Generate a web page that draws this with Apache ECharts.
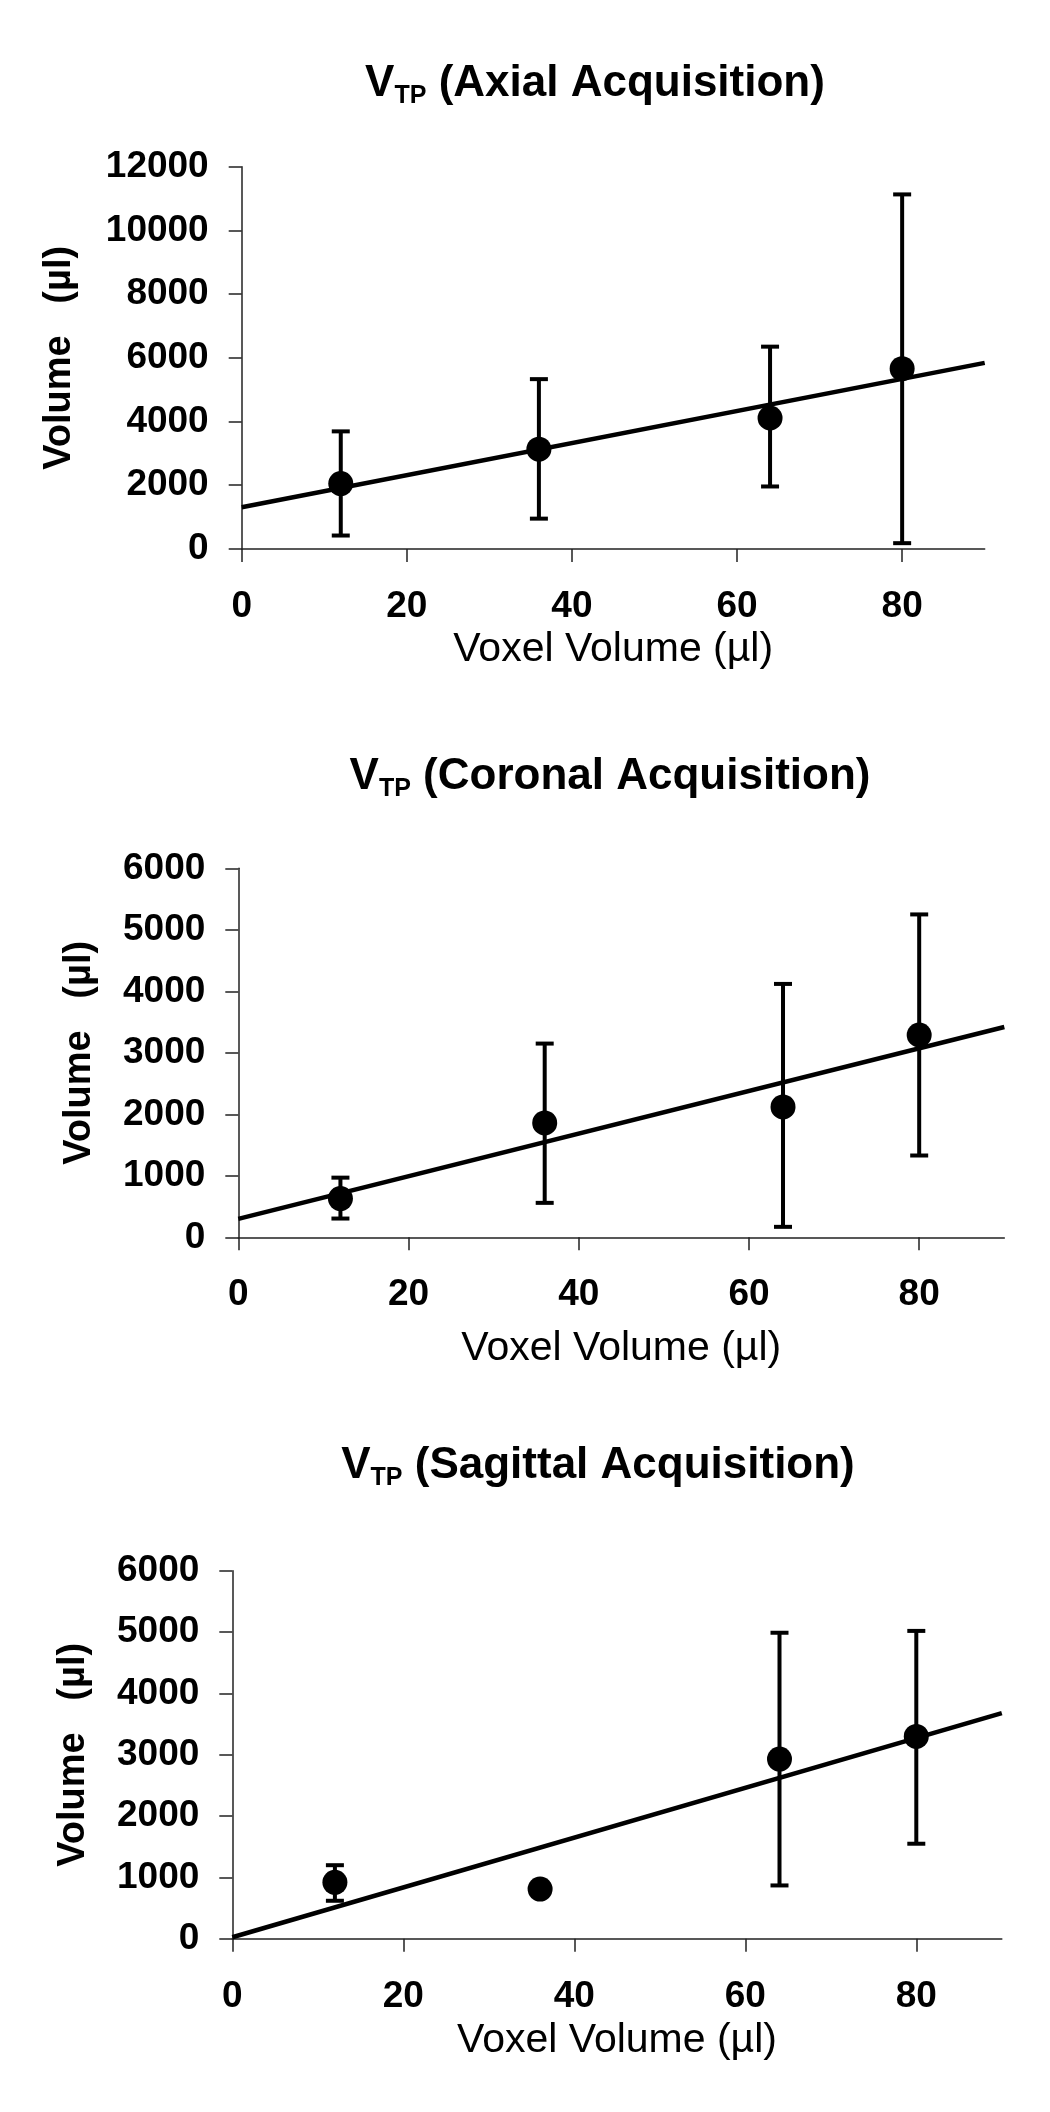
<!DOCTYPE html>
<html><head><meta charset="utf-8">
<script src="https://cdn.jsdelivr.net/npm/echarts@6/dist/echarts.min.js"></script>
<style>html,body{margin:0;padding:0;background:#fff}#c{width:1050px;height:2112px}</style>
</head><body><div id="c"></div>
<script>
// ---- data ----
const voxelVolumes = [12, 36, 64, 80];

const axialMeans    = [2050, 3130, 4110, 5660];
const axialErrLow   = [420, 950, 1960, 180];
const axialErrHigh  = [3690, 5330, 6350, 11130];
const axialTrend    = [[0, 1310], [90, 5840]];

const coronalMeans   = [630, 1860, 2120, 3290];
const coronalErrLow  = [305, 560, 170, 1330];
const coronalErrHigh = [970, 3150, 4120, 5250];
const coronalTrend   = [[0, 300], [90, 3420]];

const sagittalMeans   = [920, 810, 2930, 3300];
const sagittalErrLow  = [620, null, 870, 1550];
const sagittalErrHigh = [1200, null, 4990, 5020];
const sagittalTrend   = [[0, 25], [90, 3680]];

const xTickValues = [0, 20, 40, 60, 80];
const panelNames = ['Axial Acquisition', 'Coronal Acquisition', 'Sagittal Acquisition'];
const yMaxes = [12000, 6000, 6000];
const yIntervals = [2000, 1000, 1000];
const xAxisTitle = 'Voxel Volume (µl)';
const yAxisTitle = 'Volume   (µl)';

// ---- layout / style ----
const FONT = "'Liberation Sans', Arial, Helvetica, sans-serif";
const grids = [
  {left: 241.7, top: 166.7, width: 743, height: 382.2},
  {left: 238.3, top: 868.3, width: 766, height: 369},
  {left: 232.3, top: 1570.8, width: 769.5, height: 368}
];
const titlePos = [{x: 595, top: 58.5}, {x: 610, top: 752}, {x: 598, top: 1440.5}];
const xNameGaps = [80, 91, 81];
const yNameGaps = [163, 140, 140];

const chart = echarts.init(document.getElementById('c'), null, {renderer: 'canvas'});

function pts(means) { return voxelVolumes.map((v, i) => [v, means[i]]); }
function errs(lo, hi) {
  const out = [];
  voxelVolumes.forEach((v, i) => { if (lo[i] != null && hi[i] != null) out.push([v, lo[i], hi[i]]); });
  return out;
}
const panels = [
  {means: axialMeans, lo: axialErrLow, hi: axialErrHigh, trend: axialTrend},
  {means: coronalMeans, lo: coronalErrLow, hi: coronalErrHigh, trend: coronalTrend},
  {means: sagittalMeans, lo: sagittalErrLow, hi: sagittalErrHigh, trend: sagittalTrend}
];

const axisLineStyle = {color: '#222', width: 1.5};

const option = {
  animation: false,
  backgroundColor: '#fff',
  title: panelNames.map((n, i) => ({
    text: '{v|V}{s|TP}{m| (' + n + ')}',
    left: titlePos[i].x, top: titlePos[i].top, textAlign: 'center', padding: 0,
    textStyle: {
      rich: {
        v: {fontFamily: FONT, fontSize: 44, fontWeight: 'bold', color: '#000', lineHeight: 50},
        s: {fontFamily: FONT, fontSize: 25, fontWeight: 'bold', color: '#000', lineHeight: 18, verticalAlign: 'bottom'},
        m: {fontFamily: FONT, fontSize: 44, fontWeight: 'bold', color: '#000', lineHeight: 50}
      }
    }
  })),
  grid: grids.map(g => Object.assign({containLabel: false, outerBoundsMode: 'none'}, g)),
  xAxis: grids.map((g, i) => ({
    type: 'value', gridIndex: i, min: 0, max: 90, interval: 20,
    name: xAxisTitle, nameLocation: 'middle', nameGap: xNameGaps[i], nameMoveOverlap: false,
    nameTextStyle: {fontFamily: FONT, fontSize: 41, color: '#000'},
    axisLine: {show: true, onZero: false, lineStyle: axisLineStyle},
    axisTick: {show: true, inside: false, length: 13, customValues: xTickValues, lineStyle: axisLineStyle},
    axisLabel: {show: true, margin: 39, fontFamily: FONT, fontSize: 37, fontWeight: 'bold', color: '#000',
      customValues: xTickValues, formatter: v => String(v)},
    splitLine: {show: false}
  })),
  yAxis: grids.map((g, i) => ({
    type: 'value', gridIndex: i, min: 0, max: yMaxes[i], interval: yIntervals[i],
    name: yAxisTitle, nameLocation: 'middle', nameGap: yNameGaps[i], nameMoveOverlap: false,
    nameTextStyle: {fontFamily: FONT, fontSize: 38, fontWeight: 'bold', color: '#000'},
    axisLine: {show: true, onZero: false, lineStyle: axisLineStyle},
    axisTick: {show: true, inside: false, length: 13, lineStyle: axisLineStyle},
    axisLabel: {show: true, margin: 33, fontFamily: FONT, fontSize: 37, fontWeight: 'bold', color: '#000',
      formatter: v => String(v)},
    splitLine: {show: false}
  })),
  series: []
};

panels.forEach((p, i) => {
  option.series.push({
    type: 'line', xAxisIndex: i, yAxisIndex: i, data: p.trend, showSymbol: false, silent: true,
    lineStyle: {color: '#000', width: 4.5, opacity: 1}, z: 2
  });
  option.series.push({
    type: 'custom', xAxisIndex: i, yAxisIndex: i, data: errs(p.lo, p.hi), silent: true, z: 3,
    encode: {x: 0, y: [1, 2]},
    renderItem: function (params, api) {
      const x = api.value(0), lo = api.value(1), hi = api.value(2);
      const a = api.coord([x, lo]), b = api.coord([x, hi]);
      const hw = 9;
      const st = {stroke: '#000', lineWidth: 4, fill: null};
      return {type: 'group', children: [
        {type: 'line', shape: {x1: a[0], y1: a[1], x2: b[0], y2: b[1]}, style: st},
        {type: 'line', shape: {x1: b[0] - hw, y1: b[1], x2: b[0] + hw, y2: b[1]}, style: st},
        {type: 'line', shape: {x1: a[0] - hw, y1: a[1], x2: a[0] + hw, y2: a[1]}, style: st}
      ]};
    }
  });
  option.series.push({
    type: 'scatter', xAxisIndex: i, yAxisIndex: i, data: pts(p.means), symbol: 'circle', symbolSize: 25,
    itemStyle: {color: '#000', opacity: 1}, silent: true, z: 4
  });
});

chart.setOption(option);
</script></body></html>
